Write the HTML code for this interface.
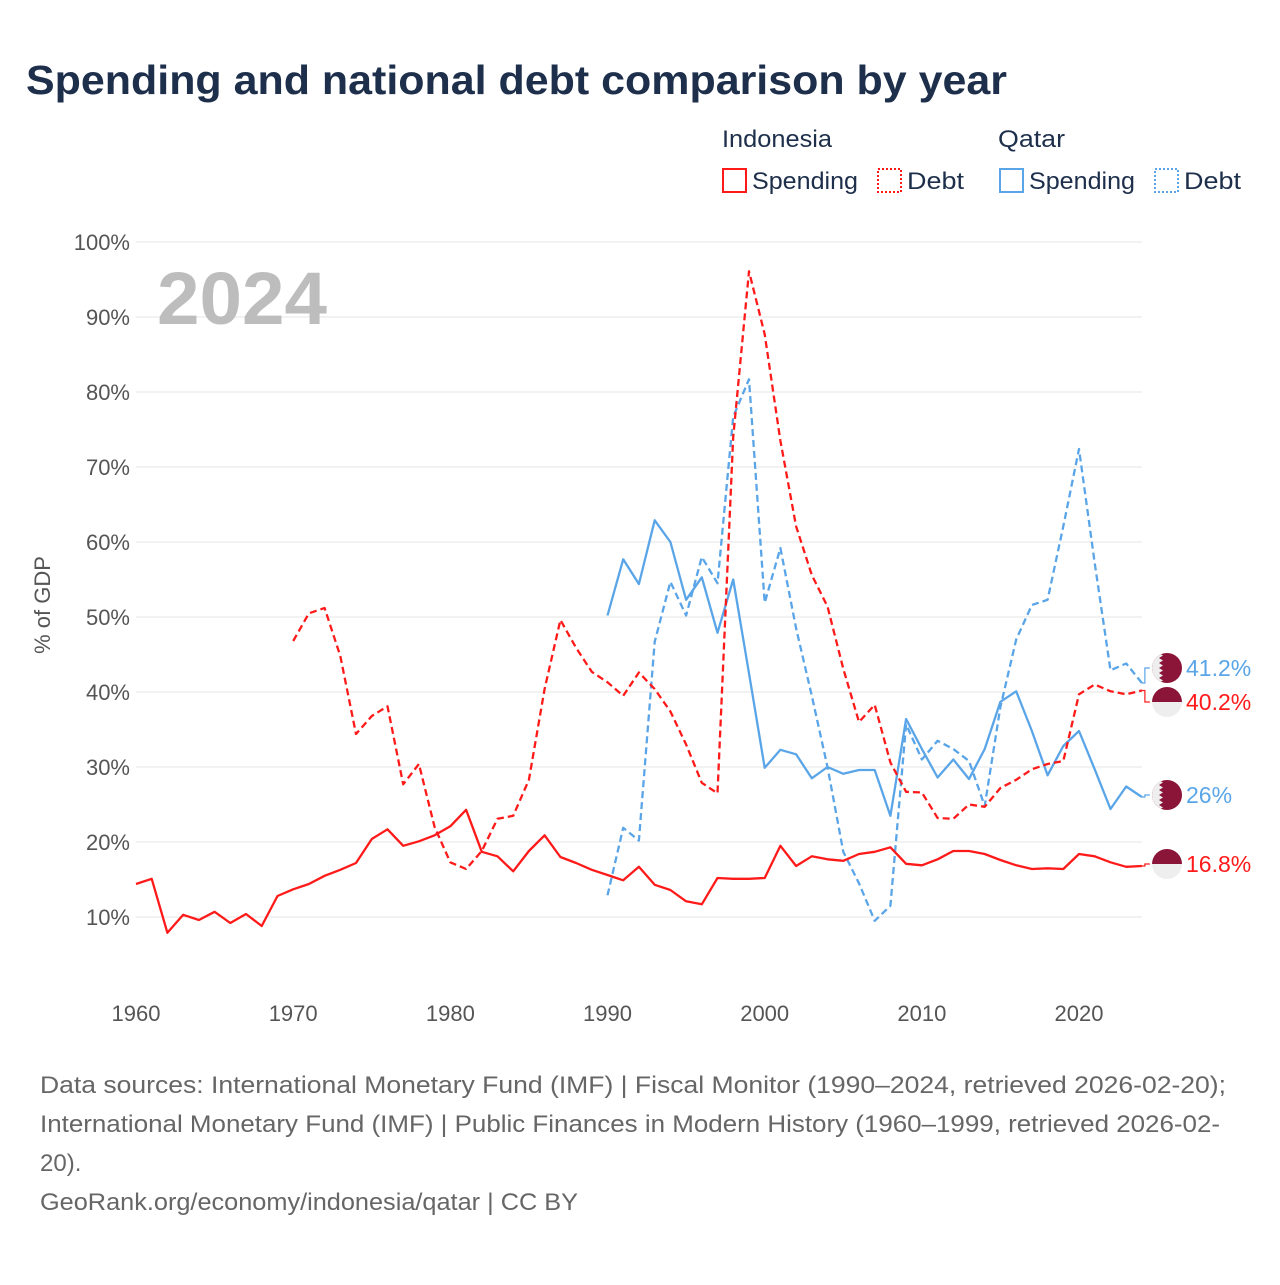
<!DOCTYPE html>
<html><head><meta charset="utf-8">
<style>
body{margin:0;background:#fff;width:1280px;height:1280px;overflow:hidden;font-family:"Liberation Sans",sans-serif}
svg text{font-family:"Liberation Sans",sans-serif}
</style></head>
<body>
<svg id="chart" width="1280" height="1280" viewBox="0 0 1280 1280">
<text x="26" y="94" font-size="41" font-weight="bold" fill="#1d2f4b" textLength="981" lengthAdjust="spacingAndGlyphs">Spending and national debt comparison by year</text>
<g font-size="24" fill="#1d2f4b">
<text x="722" y="147" textLength="110" lengthAdjust="spacingAndGlyphs">Indonesia</text>
<text x="998" y="147" textLength="67" lengthAdjust="spacingAndGlyphs">Qatar</text>
<rect x="723" y="169" width="23" height="23" fill="none" stroke="#ff1a1a" stroke-width="2"/>
<text x="752" y="189" textLength="106" lengthAdjust="spacingAndGlyphs">Spending</text>
<rect x="878" y="169" width="23" height="23" fill="none" stroke="#ff1a1a" stroke-width="2" stroke-dasharray="2,2"/>
<text x="907" y="189" textLength="57" lengthAdjust="spacingAndGlyphs">Debt</text>
<rect x="1000" y="169" width="23" height="23" fill="none" stroke="#5aa5e8" stroke-width="2"/>
<text x="1029" y="189" textLength="106" lengthAdjust="spacingAndGlyphs">Spending</text>
<rect x="1155" y="169" width="23" height="23" fill="none" stroke="#5aa5e8" stroke-width="2" stroke-dasharray="2,2"/>
<text x="1184" y="189" textLength="57" lengthAdjust="spacingAndGlyphs">Debt</text>
</g>
<g id="grid"></g>
<text x="157" y="324" font-size="74" font-weight="bold" fill="#bdbdbd" textLength="170" lengthAdjust="spacingAndGlyphs">2024</text>
<text transform="translate(50,605) rotate(-90)" text-anchor="middle" font-size="22" fill="#555">% of GDP</text>
<g id="series"></g>
<g id="labels"></g>
<g font-size="24" fill="#666">
<text x="40" y="1093" textLength="1186" lengthAdjust="spacingAndGlyphs">Data sources: International Monetary Fund (IMF) | Fiscal Monitor (1990–2024, retrieved 2026-02-20);</text>
<text x="40" y="1132" textLength="1180" lengthAdjust="spacingAndGlyphs">International Monetary Fund (IMF) | Public Finances in Modern History (1960–1999, retrieved 2026-02-</text>
<text x="40" y="1171">20).</text>
<text x="40" y="1210" textLength="538" lengthAdjust="spacingAndGlyphs">GeoRank.org/economy/indonesia/qatar | CC BY</text>
</g>
</svg>
<script>
const yTicks=[10,20,30,40,50,60,70,80,90,100];
const xTicks=[1960,1970,1980,1990,2000,2010,2020];
const idnSpendStart=1960;
const idnSpend=[14.4,15.1,7.9,10.3,9.6,10.7,9.2,10.4,8.8,12.8,13.7,14.4,15.5,16.3,17.2,20.4,21.7,19.5,20.1,20.9,22.1,24.3,18.7,18.1,16.1,18.8,20.9,18.0,17.2,16.3,15.6,14.9,16.7,14.3,13.6,12.1,11.7,15.2,15.1,15.1,15.2,19.5,16.8,18.1,17.7,17.5,18.4,18.7,19.3,17.1,16.9,17.7,18.8,18.8,18.4,17.6,16.9,16.4,16.5,16.4,18.4,18.1,17.3,16.7,16.8];
const idnDebtStart=1970;
const idnDebt=[46.8,50.5,51.2,44.8,34.4,36.8,38.1,27.7,30.4,22.0,17.3,16.4,18.8,23.1,23.5,28.3,40.4,49.6,45.9,42.7,41.3,39.5,42.6,40.4,37.4,33.0,27.9,26.5,74.0,96.1,87.7,73.5,62.1,55.6,51.4,43.1,36.0,38.3,30.6,26.7,26.6,23.2,23.1,25.0,24.7,27.2,28.3,29.7,30.4,30.8,39.7,41.0,40.1,39.7,40.2];
const qatStart=1990;
const qatSpend=[50.2,57.7,54.4,62.9,60.0,52.3,55.3,47.9,55.0,42.5,29.9,32.3,31.7,28.5,30.0,29.1,29.6,29.6,23.5,36.4,32.4,28.6,31.0,28.4,32.4,38.7,40.1,34.8,28.9,32.8,34.8,29.7,24.4,27.4,26.0];
const qatDebt=[12.9,21.9,20.2,46.7,54.7,50.2,58.0,54.5,76.7,81.7,51.9,59.2,48.5,39.5,30.0,18.7,14.5,9.5,11.5,35.7,31.0,33.5,32.4,30.8,24.8,38.0,47.0,51.6,52.3,62.1,72.4,57.2,42.9,43.8,41.2];
const endLabels=["41.2%","40.2%","26%","16.8%"];

const NS="http://www.w3.org/2000/svg";
const X=yr=>136+(yr-1960)*15.717;
const Y=v=>917-(v-10)*7.5;
function mk(tag,attrs,parent){const e=document.createElementNS(NS,tag);for(const k in attrs)e.setAttribute(k,attrs[k]);parent.appendChild(e);return e;}
const grid=document.getElementById('grid');
yTicks.forEach(t=>{
  const l=mk('line',{x1:136,x2:1142,y1:Y(t),y2:Y(t),stroke:'#e6e6e6','stroke-width':1},grid);
  
  
  const tx=mk('text',{x:130,y:Y(t)+8,'text-anchor':'end','font-size':22,fill:'#555'},grid);
  tx.textContent=t+'%';
  
  
});
xTicks.forEach(t=>{
  const tx=mk('text',{x:X(t),y:1021,'text-anchor':'middle','font-size':22,fill:'#555'},grid);
  tx.textContent=t;
  
  
});
const series=document.getElementById('series');
function line(vals,start,color,dash,name){
  const d=vals.map((v,i)=>(i?'L':'M')+X(start+i).toFixed(1)+','+Y(v).toFixed(1)).join('');
  const p=mk('path',{d:d,fill:'none',stroke:color,'stroke-width':2.3,'stroke-linejoin':'round'},series);
  if(dash)p.setAttribute('stroke-dasharray','7,4');
  
  
}
line(qatDebt,qatStart,'#5aa5e8',true,'line-qatar-debt');
line(qatSpend,qatStart,'#5aa5e8',false,'line-qatar-spending');
line(idnDebt,idnDebtStart,'#ff1a1a',true,'line-indonesia-debt');
line(idnSpend,idnSpendStart,'#ff1a1a',false,'line-indonesia-spending');

const labels=document.getElementById('labels');
const lx=X(2024);
const items=[
 {v:qatDebt[qatDebt.length-1],ly:668,c:'#5aa5e8',f:'qatar',t:endLabels[0],n:'end-label-qatar-debt'},
 {v:idnDebt[idnDebt.length-1],ly:702,c:'#ff1a1a',f:'indonesia',t:endLabels[1],n:'end-label-indonesia-debt'},
 {v:qatSpend[qatSpend.length-1],ly:795,c:'#5aa5e8',f:'qatar',t:endLabels[2],n:'end-label-qatar-spending'},
 {v:idnSpend[idnSpend.length-1],ly:864,c:'#ff1a1a',f:'indonesia',t:endLabels[3],n:'end-label-indonesia-spending'}
];
items.forEach(it=>{
  const g=mk('g',{},labels);
  
  
  mk('path',{d:`M${lx},${Y(it.v)}H${lx+3}V${it.ly}H${lx+8}`,fill:'none',stroke:it.c,'stroke-width':1.2},g);
  const cx=1167,cy=it.ly,r=15;
  if(it.f==='indonesia'){
    mk('path',{d:`M${cx-r},${cy}A${r},${r} 0 0 1 ${cx+r},${cy}Z`,fill:'#8a1538'},g);
    mk('path',{d:`M${cx-r},${cy}A${r},${r} 0 0 0 ${cx+r},${cy}Z`,fill:'#eeeeee'},g);
  }else{
    mk('circle',{cx:cx,cy:cy,r:r,fill:'#8a1538'},g);
    let pts=`${cx-r},${cy-r} ${cx-8},${cy-r}`;
    for(let k=0;k<6;k++){const y0=cy-r+k*5;pts+=` ${cx-4},${y0+2.5} ${cx-8},${y0+5}`;}
    pts+=` ${cx-r},${cy+r}`;
    const cp=mk('clipPath',{id:'cp'+it.n},g);
    mk('circle',{cx:cx,cy:cy,r:r},cp);
    mk('polygon',{points:pts,fill:'#eeeeee','clip-path':`url(#cp${it.n})`},g);
  }
  const t=mk('text',{x:1186,y:it.ly+8,'font-size':23,fill:it.c},g);
  t.textContent=it.t;
});
</script>
</body></html>
